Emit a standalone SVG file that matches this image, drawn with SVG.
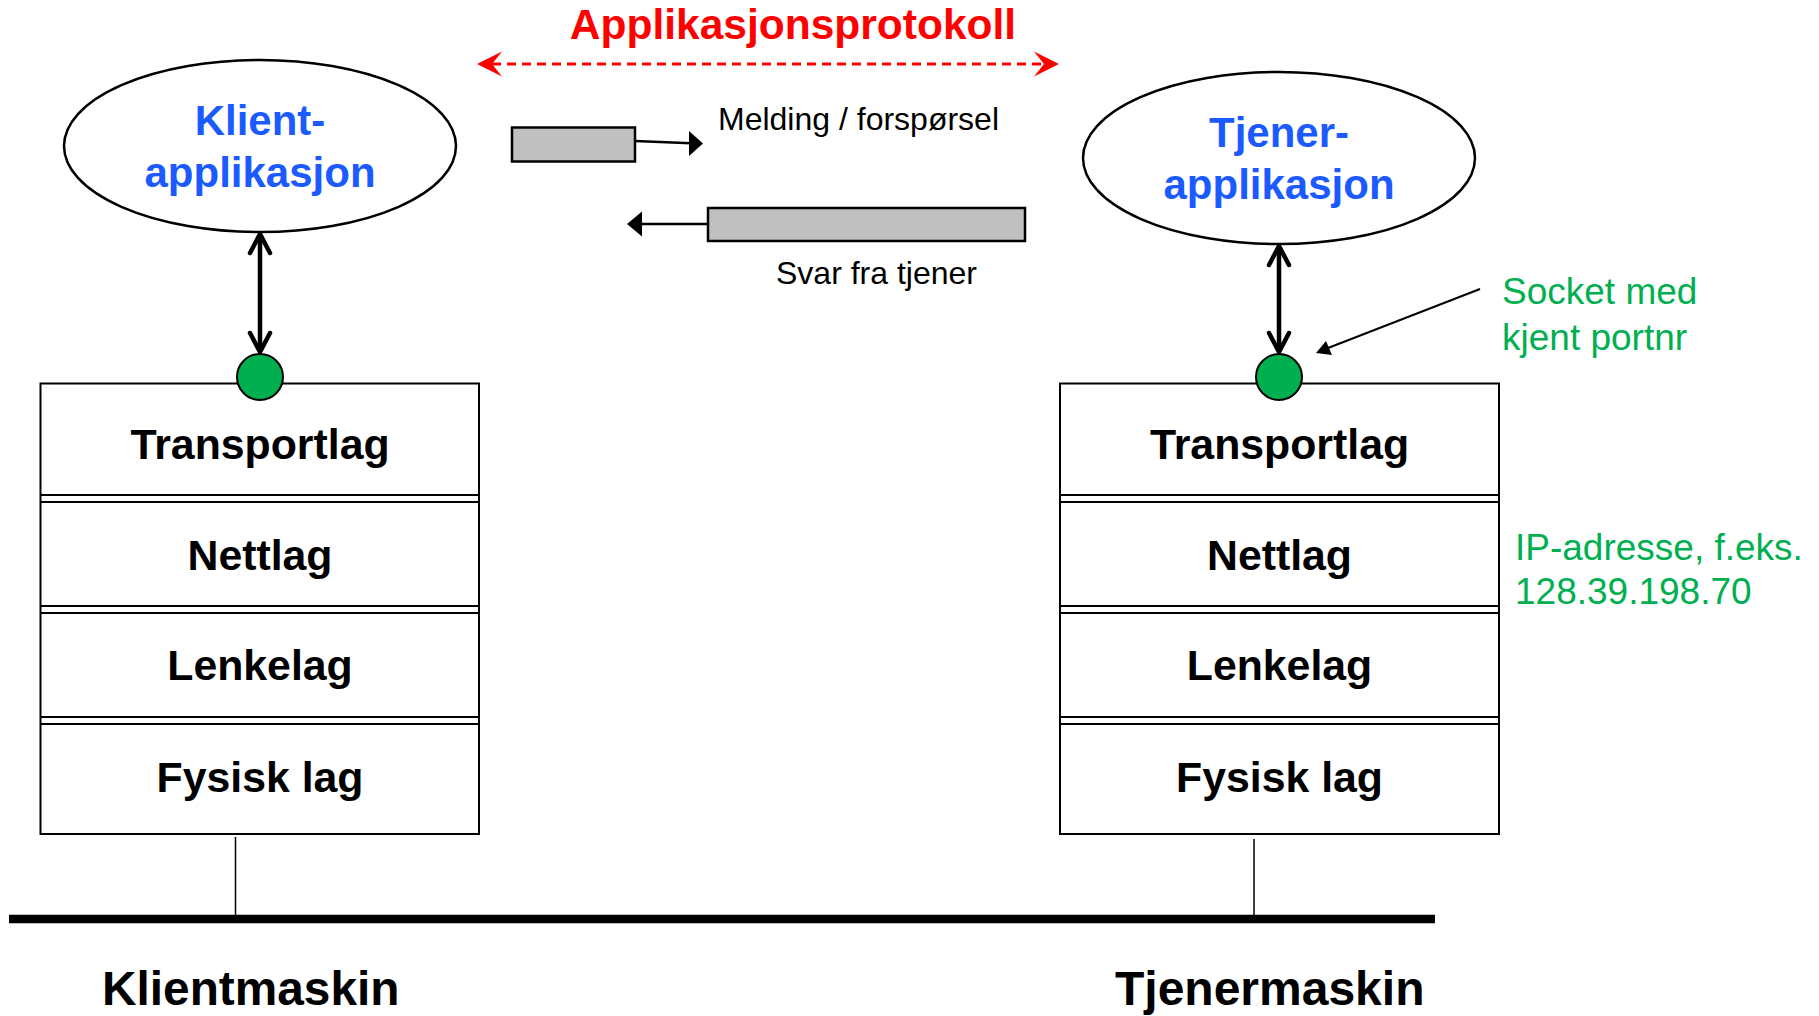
<svg xmlns="http://www.w3.org/2000/svg" width="1819" height="1016" viewBox="0 0 1819 1016">
  <style>
    .bold { font-family: "Liberation Sans", Arial, sans-serif; font-weight: bold; }
    .reg { font-family: "Liberation Sans", Arial, sans-serif; }
    .box { fill: #ffffff; stroke: #000000; stroke-width: 2; }
    .sep { stroke: #000000; stroke-width: 2; }
    .layer-text { font-size: 42.8px; fill: #000000; text-anchor: middle; }
    .app { fill: #ffffff; stroke: #000000; stroke-width: 2.5; }
    .app-text { font-size: 42px; fill: #1b5aff; text-anchor: middle; }
    .socket { fill: #00b050; stroke: #000000; stroke-width: 2; }
    .note { font-size: 37px; fill: #00b050; }
    .msg { fill: #c0c0c0; stroke: #000000; stroke-width: 2.5; }
    .line { stroke: #000000; fill: none; }
    .dbl { stroke: #000000; fill: none; stroke-width: 4.5; stroke-linecap: round; stroke-linejoin: round; }
    .head { fill: #000000; stroke: none; }
  </style>

  <!-- protocol label -->
  <g id="protocol">
    <text class="bold" x="793" y="39" font-size="42.5" fill="#ff0000" text-anchor="middle">Applikasjonsprotokoll</text>
  </g>

  <!-- client application -->
  <g id="client-app">
    <ellipse class="app" cx="260" cy="146" rx="196" ry="86"/>
    <text class="bold app-text" x="260" y="135">Klient-</text>
    <text class="bold app-text" x="260" y="187">applikasjon</text>
  </g>

  <!-- server application -->
  <g id="server-app">
    <ellipse class="app" cx="1279" cy="158" rx="196" ry="86"/>
    <text class="bold app-text" x="1279" y="147">Tjener-</text>
    <text class="bold app-text" x="1279" y="199">applikasjon</text>
  </g>

  <!-- message packets -->
  <g id="request-packet">
    <rect class="msg" x="512" y="127.5" width="123" height="34"/>
    <text class="reg" x="718" y="130" font-size="32" fill="#000000">Melding / forspørsel</text>
  </g>
  <g id="reply-packet">
    <rect class="msg" x="708" y="208" width="317" height="33"/>
    <text class="reg" x="776" y="284" font-size="32" fill="#000000">Svar fra tjener</text>
  </g>

  <!-- client protocol stack -->
  <g id="client-stack">
    <rect class="box" x="40.5" y="383.5" width="438.5" height="450.5"/>
    <line class="sep" x1="40.5" y1="495" x2="479" y2="495"/>
    <line class="sep" x1="40.5" y1="502" x2="479" y2="502"/>
    <line class="sep" x1="40.5" y1="606" x2="479" y2="606"/>
    <line class="sep" x1="40.5" y1="613" x2="479" y2="613"/>
    <line class="sep" x1="40.5" y1="717" x2="479" y2="717"/>
    <line class="sep" x1="40.5" y1="724" x2="479" y2="724"/>
    <text class="bold layer-text" x="260" y="459">Transportlag</text>
    <text class="bold layer-text" x="260" y="570">Nettlag</text>
    <text class="bold layer-text" x="260" y="680">Lenkelag</text>
    <text class="bold layer-text" x="260" y="792">Fysisk lag</text>
  </g>

  <!-- server protocol stack -->
  <g id="server-stack">
    <rect class="box" x="1060" y="383.5" width="439" height="450.5"/>
    <line class="sep" x1="1060" y1="495" x2="1499" y2="495"/>
    <line class="sep" x1="1060" y1="502" x2="1499" y2="502"/>
    <line class="sep" x1="1060" y1="606" x2="1499" y2="606"/>
    <line class="sep" x1="1060" y1="613" x2="1499" y2="613"/>
    <line class="sep" x1="1060" y1="717" x2="1499" y2="717"/>
    <line class="sep" x1="1060" y1="724" x2="1499" y2="724"/>
    <text class="bold layer-text" x="1279.5" y="459">Transportlag</text>
    <text class="bold layer-text" x="1279.5" y="570">Nettlag</text>
    <text class="bold layer-text" x="1279.5" y="680">Lenkelag</text>
    <text class="bold layer-text" x="1279.5" y="792">Fysisk lag</text>
  </g>

  <!-- sockets -->
  <g id="client-socket">
    <circle class="socket" cx="260" cy="377" r="23"/>
  </g>
  <g id="server-socket">
    <circle class="socket" cx="1279" cy="377" r="23"/>
  </g>

  <!-- annotations -->
  <g id="socket-note">
    <text class="reg note" x="1502" y="304">Socket med</text>
    <text class="reg note" x="1502" y="350">kjent portnr</text>
  </g>
  <g id="ip-note">
    <text class="reg note" x="1515" y="560">IP-adresse, f.eks.</text>
    <text class="reg note" x="1515" y="604">128.39.198.70</text>
  </g>

  <!-- machine labels -->
  <g id="client-machine">
    <text class="bold" x="102" y="1005" font-size="47.8" fill="#000000">Klientmaskin</text>
  </g>
  <g id="server-machine">
    <text class="bold" x="1115" y="1005" font-size="48" fill="#000000">Tjenermaskin</text>
  </g>

  <!-- connectors -->
  <g id="connectors">
    <!-- application protocol (dashed, both ways) -->
    <line x1="492" y1="64" x2="1044" y2="64" stroke="#ff0000" stroke-width="3" stroke-dasharray="9 6"/>
    <path d="M477 64 L502 51.5 L492 64 L502 76.5 Z" fill="#ff0000"/>
    <path d="M1059 64 L1034 51.5 L1044 64 L1034 76.5 Z" fill="#ff0000"/>

    <!-- request / reply -->
    <line class="line" x1="635" y1="141" x2="691" y2="143.3" stroke-width="2.5"/>
    <path class="head" d="M703 143.5 L689 131 L689 156 Z"/>
    <line class="line" x1="708" y1="224" x2="640" y2="224" stroke-width="2.5"/>
    <path class="head" d="M627 224 L642 211.5 L642 236.5 Z"/>

    <!-- application to socket, client -->
    <line class="dbl" x1="260" y1="236" x2="260" y2="350"/>
    <path class="dbl" d="M250 253 L260 234 L270 253"/>
    <path class="dbl" d="M250 333 L260 352 L270 333"/>

    <!-- application to socket, server -->
    <line class="dbl" x1="1279" y1="248" x2="1279" y2="350"/>
    <path class="dbl" d="M1269 265 L1279 246 L1289 265"/>
    <path class="dbl" d="M1269 333 L1279 352 L1289 333"/>

    <!-- socket note pointer -->
    <line class="line" x1="1480" y1="289" x2="1328" y2="348" stroke-width="2"/>
    <path class="head" d="M1316 353 L1326 341 L1332 355 Z"/>

    <!-- network -->
    <line class="line" x1="235.5" y1="837" x2="235.5" y2="915" stroke-width="1.5"/>
    <line class="line" x1="1254" y1="839" x2="1254" y2="923" stroke-width="1.5"/>
    <line class="line" x1="9" y1="919" x2="1435" y2="919" stroke-width="8.5"/>
  </g>
</svg>
